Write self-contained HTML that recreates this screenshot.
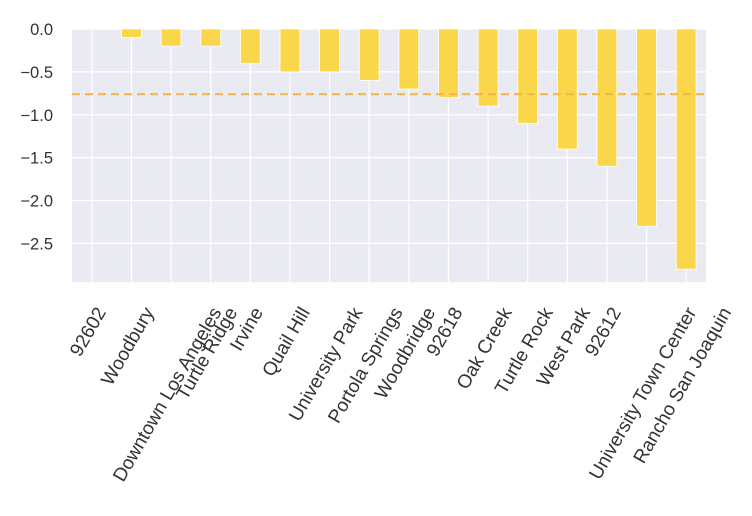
<!DOCTYPE html>
<html><head><meta charset="utf-8"><style>
body{margin:0;background:#fff;}
svg{display:block;font-family:"Liberation Sans","DejaVu Sans",sans-serif;}
</style></head><body>
<svg id="chart" width="752" height="516"></svg>
<script>
const categories=["92602","Woodbury","Downtown Los Angeles","Turtle Ridge","Irvine","Quail Hill","University Park","Portola Springs","Woodbridge","92618","Oak Creek","Turtle Rock","West Park","92612","University Town Center","Rancho San Joaquin"];
const values=[0,-0.1,-0.2,-0.2,-0.4,-0.5,-0.5,-0.6,-0.7,-0.8,-0.9,-1.1,-1.4,-1.6,-2.3,-2.8];
const yTicks=[0,-0.5,-1,-1.5,-2,-2.5];
const yTickLabels=["0.0","\u22120.5","\u22121.0","\u22121.5","\u22122.0","\u22122.5"];
const meanValue=-0.76;

const NS="http://www.w3.org/2000/svg";
const svg=document.getElementById('chart');
const L=72,R=706,T=29,B=282,yMin=-2.95,yMax=0;
const n=categories.length,step=(R-L)/n;
const x=i=>L+step*(i+0.5);
const y=v=>T+(yMax-v)/(yMax-yMin)*(B-T);
function mk(tag,attrs,parent){const e=document.createElementNS(NS,tag);for(const k in attrs)e.setAttribute(k,attrs[k]);(parent||svg).appendChild(e);return e;}

const bg=mk('rect',{x:L,y:T,width:R-L,height:B-T,fill:'#eaeaf2'});



yTicks.forEach((v,i)=>{
  const g=mk('line',{x1:L,x2:R,y1:y(v),y2:y(v),stroke:'#fff','stroke-width':1.2});
  
  
  const t=mk('text',{x:53,y:y(v)+6,'text-anchor':'end','font-size':16.5,fill:'#333'});
  t.textContent=yTickLabels[i];
  
  
});
categories.forEach((c,i)=>{
  const g=mk('line',{x1:x(i),x2:x(i),y1:T,y2:B,stroke:'#fff','stroke-width':1.2});
  
  
});
values.forEach((v,i)=>{
  const bw=step*0.5;
  const r=mk('rect',{x:x(i)-bw/2,y:y(0),width:bw,height:Math.max(0,y(v)-y(0)),fill:'#fad64a',stroke:'#fff','stroke-width':0.8});
  
  
});
const ml=mk('line',{x1:L,x2:R,y1:y(meanValue),y2:y(meanValue),stroke:'#f2b84b','stroke-width':2.2,'stroke-dasharray':'8,5'});


const s60=Math.sin(Math.PI/3),c60=0.5,fh=14;
categories.forEach((c,i)=>{
  const t=mk('text',{'text-anchor':'middle','font-size':19,fill:'#333'});
  t.textContent=c;
  
  
  const w=t.getComputedTextLength();
  const H=w*s60+fh*c60;
  const cx=x(i)-4.5, cy=305+H/2;
  t.setAttribute('x',cx);
  t.setAttribute('y',cy+7);
  t.setAttribute('transform',`rotate(-60 ${cx} ${cy})`);
});
</script>
</body></html>
